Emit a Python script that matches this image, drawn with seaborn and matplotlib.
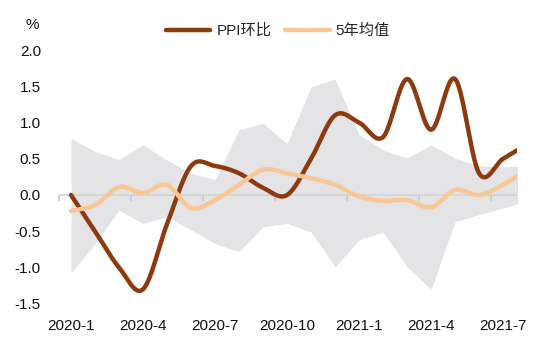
import numpy as np
import pandas as pd
import matplotlib
matplotlib.use("Agg")
import matplotlib.pyplot as plt
import seaborn as sns

months = ['2020-1', '2020-2', '2020-3', '2020-4', '2020-5', '2020-6', '2020-7',
          '2020-8', '2020-9', '2020-10', '2020-11', '2020-12', '2021-1', '2021-2',
          '2021-3', '2021-4', '2021-5', '2021-6', '2021-7', '2021-8']
ppi_mom = [0.0, -0.5, -1.0, -1.3, -0.4, 0.4, 0.4, 0.3, 0.1, 0.0,
           0.5, 1.1, 1.0, 0.8, 1.6, 0.9, 1.6, 0.3, 0.5, 0.7]
avg_5y = [-0.22, -0.14, 0.11, 0.03, 0.14, -0.18, -0.07, 0.14, 0.35, 0.30,
          0.23, 0.14, -0.02, -0.08, -0.07, -0.17, 0.07, 0.0, 0.14, 0.35]
band_upper = [0.78, 0.60, 0.49, 0.69, 0.48, 0.30, 0.21, 0.90, 0.99, 0.71,
              1.49, 1.60, 0.83, 0.62, 0.51, 0.69, 0.51, 0.40, 0.39, 0.40]
band_lower = [-1.08, -0.67, -0.21, -0.39, -0.30, -0.48, -0.67, -0.78, -0.44, -0.39,
              -0.51, -0.99, -0.62, -0.51, -0.99, -1.30, -0.37, -0.27, -0.18, -0.08]
tick_labels = ['2020-1', '2020-4', '2020-7', '2020-10', '2021-1', '2021-4', '2021-7']

BROWN = '#8C3A0E'
TAN = '#F8C794'
BAND = '#E4E4E7'


def smooth(y, n=20):
    """Catmull-Rom rendering of a series (Excel-like smoothed line)."""
    y = np.asarray(y, float)
    p = np.concatenate([[2 * y[0] - y[1]], y, [2 * y[-1] - y[-2]]])
    xs, ys = [], []
    t = np.linspace(0, 1, n, endpoint=False)
    for i in range(len(y) - 1):
        p0, p1, p2, p3 = p[i], p[i + 1], p[i + 2], p[i + 3]
        seg = 0.5 * ((2 * p1) + (-p0 + p2) * t + (2 * p0 - 5 * p1 + 4 * p2 - p3) * t ** 2
                     + (-p0 + 3 * p1 - 3 * p2 + p3) * t ** 3)
        xs.append(i + t)
        ys.append(seg)
    xs.append([len(y) - 1])
    ys.append([y[-1]])
    return np.concatenate(xs), np.concatenate(ys)


sns.set_theme(style='white')
plt.rcParams['font.family'] = ['Liberation Sans', 'Noto Sans CJK SC', 'DejaVu Sans']

fig = plt.figure(figsize=(5.5, 3.41), dpi=100)
ax = fig.add_axes([59 / 550, 1 - 303.75 / 341, (517 - 59) / 550, (303.75 - 50) / 341])

x = np.arange(len(months))
ax.fill_between(x, band_lower, band_upper, color=BAND, lw=0, zorder=1)

# zero line with category-boundary ticks
ax.axhline(0, color='#D4D4D4', lw=1.3, zorder=2)
bounds = np.arange(-0.5, len(months), 3)
ax.plot(bounds, np.zeros_like(bounds), ls='', marker=3, markersize=4,
        markeredgewidth=1.2, color='#C8C8C8', zorder=2, clip_on=False)

sx, sy = smooth(ppi_mom)
df_ppi = pd.DataFrame({'x': sx, 'y': sy})
sx2, sy2 = smooth(avg_5y)
df_avg = pd.DataFrame({'x': sx2, 'y': sy2})

sns.lineplot(data=df_ppi, x='x', y='y', sort=False, color=BROWN, lw=3.2,
             ax=ax, zorder=3, label='PPI环比')
sns.lineplot(data=df_avg, x='x', y='y', sort=False, color=TAN, lw=3.2,
             ax=ax, zorder=4, label='5年均值')

ax.set_xlim(-0.5, 18.58)
ax.set_ylim(-1.5, 2.0)
ax.set_yticks([-1.5, -1.0, -0.5, 0.0, 0.5, 1.0, 1.5, 2.0])
ax.set_yticklabels(['-1.5', '-1.0', '-0.5', '0.0', '0.5', '1.0', '1.5', '2.0'])
ax.set_xticks([months.index(m) for m in tick_labels])
ax.set_xticklabels(tick_labels)
ax.tick_params(axis='both', length=0, labelsize=11, colors='#111111')
ax.tick_params(axis='y', pad=13)
ax.tick_params(axis='x', pad=11)
ax.set_xlabel('')
ax.set_ylabel('')
for s in ax.spines.values():
    s.set_visible(False)
ax.grid(False)

fig.text(32 / 550, 1 - 25 / 341, '%', ha='center', va='center', fontsize=11, color='#111111')

ax.get_legend().remove()
h, l = ax.get_legend_handles_labels()
fig.legend(h, l, loc='center', bbox_to_anchor=(278 / 550, 1 - 31 / 341), ncol=2,
           frameon=False, fontsize=11, handlelength=2.9, handletextpad=0.4,
           columnspacing=0.9, borderpad=0, borderaxespad=0)

fig.savefig('out.png', dpi=100)
